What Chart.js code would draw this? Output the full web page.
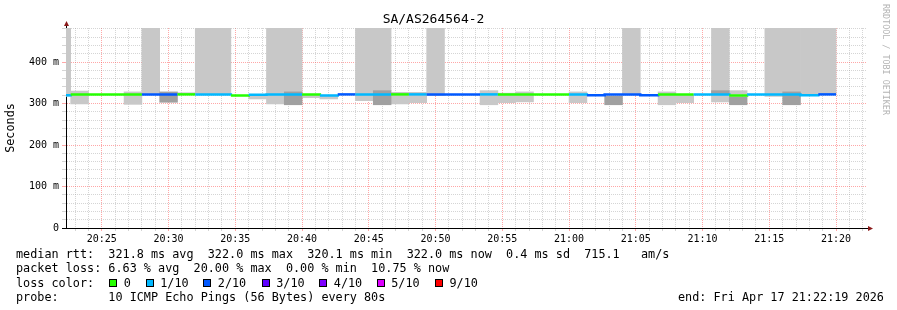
<!DOCTYPE html>
<html>
<head>
<meta charset="utf-8">
<script src="https://cdn.jsdelivr.net/npm/chart.js@4"></script>
<style>
  body { margin: 0; background: #fff; }
  #wrap { position: relative; width: 897px; height: 310px; font-family: 'DejaVu Sans Mono', monospace; color: #000; }
  #chart { position: absolute; left: 0; top: 0; }
  .row { position: absolute; left: 16px; font-size: 11.8px; line-height: 14px; white-space: pre; }
  .box { position: absolute; top: 279px; width: 6px; height: 6px; border: 1px solid #000; }
  #mark { position: absolute; left: 881px; top: 4px; writing-mode: vertical-rl; font-size: 8.4px; color: #b4b4b4; white-space: pre; }
</style>
</head>
<body>
<div id="wrap">
  <canvas id="chart" width="897" height="310"></canvas>
  <div id="mark">RRDTOOL / TOBI OETIKER</div>
  <div class="row" style="top:247.3px">median rtt:  321.8 ms avg  322.0 ms max  320.1 ms min  322.0 ms now  0.4 ms sd  715.1   am/s</div>
  <div class="row" style="top:261.3px">packet loss: 6.63 % avg  20.00 % max  0.00 % min  10.75 % now</div>
  <div class="row" style="top:275.5px">loss color:</div>
  <div id="lossLegend"></div>
  <div class="row" style="top:289.6px">probe:       10 ICMP Echo Pings (56 Bytes) every 80s</div>
  <div class="row" style="top:289.6px; left:678px">end: Fri Apr 17 21:22:19 2026</div>
</div>
<script>
// start of each 80 s step
const stepStarts = [
  '20:21:20', '20:22:40', '20:24:00', '20:25:20', '20:26:40', '20:28:00', '20:29:20', '20:30:40',
  '20:32:00', '20:33:20', '20:34:40', '20:36:00', '20:37:20', '20:38:40', '20:40:00', '20:41:20',
  '20:42:40', '20:44:00', '20:45:20', '20:46:40', '20:48:00', '20:49:20', '20:50:40', '20:52:00',
  '20:53:20', '20:54:40', '20:56:00', '20:57:20', '20:58:40', '21:00:00', '21:01:20', '21:02:40',
  '21:04:00', '21:05:20', '21:06:40', '21:08:00', '21:09:20', '21:10:40', '21:12:00', '21:13:20',
  '21:14:40', '21:16:00', '21:17:20', '21:18:40'
];
const dataEnd = '21:20:00';
const viewStart = '20:22:19';
const viewEnd = '21:22:19';

// median rtt (ms)
const median = [
  320, 322, 322, 322, 322, 322, 322, 322, 322, 322, 319.5, 321, 322, 322, 322, 319.5,
  322, 322, 322, 322, 322, 322, 322, 322, 322, 322, 322, 322, 322, 322, 320, 322,
  322, 320, 322, 322, 322, 322, 319.5, 322, 322, 322, 320, 322
];
// lost pings out of 10
const lossCount = [
  1, 0, 0, 0, 0, 2, 2, 0, 1, 1, 0, 1, 1, 1, 0, 1,
  2, 1, 1, 0, 1, 2, 2, 2, 1, 0, 0, 0, 0, 1, 2, 2,
  2, 2, 0, 0, 1, 1, 0, 1, 1, 1, 1, 2
];
// smoke (ms)
const lightLow = [
  317, 299, null, null, 298, 322, null, 322, 322, 322, null, 311, 299, 328, 314, 311,
  null, 307, 331, 299, 302, 319, null, null, 297, 302, 304, null, null, 302, null, null,
  322, null, 297, 302, null, 304, 322, null, 317, 328, 321, 322
];
const lightHigh = [
  482, 330, null, null, 328, 482, null, 326, 482, 482, null, 320, 482, 482, 320, 320,
  null, 482, 482, 327, 327, 482, null, null, 331, 325, 328, null, null, 328, null, null,
  482, null, 328, 322, null, 482, 331, null, 482, 482, 482, 482
];
const darkLow = [
  null, null, null, null, null, null, 303, null, null, null, null, null, null, 297, null, null,
  null, null, 297, null, null, null, null, null, null, null, null, null, null, null, null, 297,
  null, null, null, null, null, 322, 297, null, null, 297, null, null
];
const darkHigh = [
  null, null, null, null, null, null, 328, null, null, null, null, null, null, 328, null, null,
  null, null, 331, null, null, null, null, null, null, null, null, null, null, null, null, 318,
  null, null, null, null, null, 331, 316, null, null, 328, null, null
];

const xTickLabels = ['20:25', '20:30', '20:35', '20:40', '20:45', '20:50', '20:55', '21:00', '21:05', '21:10', '21:15', '21:20'];
const yTickValues = [0, 100, 200, 300, 400];
const yTickLabels = ['0', '100 m', '200 m', '300 m', '400 m'];
const yMax = 482;

const lossColors = { 0: '#26ff00', 1: '#00b8ff', 2: '#0059ff', 3: '#5e00ff', 4: '#7e00ff', 5: '#dd00ff', 9: '#ff0000' };
const lossNames = { 0: '0', 1: '1/10', 2: '2/10', 3: '3/10', 4: '4/10', 5: '5/10', 9: '9/10' };

const sec = s => { const p = s.split(':').map(Number); return p[0] * 3600 + p[1] * 60 + (p[2] || 0); };
const xMin = sec(viewStart), xMax = sec(viewEnd);
const starts = stepStarts.map(sec);
const stepLen = starts[1] - starts[0];

// plot box is fixed by the layout below
const plotLeft = 66, plotRight = 867;
const barWidth = (plotRight - plotLeft) * stepLen / (xMax - xMin);

function bars(lo, hi) {
  const out = [];
  starts.forEach((t, i) => {
    if (lo[i] !== null) out.push({ x: t + stepLen / 2, y: [lo[i], hi[i]] });
  });
  return out;
}

const medianPoints = starts.map((t, i) => ({ x: t, y: median[i] }));
medianPoints.push({ x: sec(dataEnd), y: median[median.length - 1] });

const majorX = xTickLabels.map(sec);
const gridGray = 'rgba(150,150,150,0.4)';
const gridRed = 'rgba(255,60,60,0.45)';
const mono = 'DejaVu Sans Mono';

const axisArrows = {
  id: 'axisArrows',
  afterDraw(chart) {
    const { ctx, chartArea: a } = chart;
    ctx.save();
    ctx.strokeStyle = '#000';
    ctx.lineWidth = 1;
    ctx.beginPath();
    ctx.moveTo(a.left + 0.5, a.top);
    ctx.lineTo(a.left + 0.5, a.top - 3);
    ctx.moveTo(a.left - 4, a.bottom + 0.5);
    ctx.lineTo(a.left, a.bottom + 0.5);
    ctx.stroke();
    ctx.fillStyle = '#8b1a1a';
    ctx.beginPath();
    ctx.moveTo(a.left + 0.5, a.top - 7);
    ctx.lineTo(a.left - 2, a.top - 2);
    ctx.lineTo(a.left + 3, a.top - 2);
    ctx.fill();
    ctx.beginPath();
    ctx.moveTo(a.right + 6, a.bottom + 0.5);
    ctx.lineTo(a.right + 1, a.bottom - 2);
    ctx.lineTo(a.right + 1, a.bottom + 3);
    ctx.fill();
    ctx.restore();
  }
};

const smoke = { grouped: false, barThickness: barWidth, borderWidth: 0, clip: 0 };

new Chart(document.getElementById('chart'), {
  type: 'bar',
  data: {
    datasets: [
      {
        type: 'line',
        data: medianPoints,
        stepped: true,
        borderWidth: 2.5,
        pointRadius: 0,
        clip: 0,
        segment: { borderColor: c => lossColors[lossCount[c.p0DataIndex]] }
      },
      Object.assign({ data: bars(darkLow, darkHigh), backgroundColor: '#a0a0a0' }, smoke),
      Object.assign({ data: bars(lightLow, lightHigh), backgroundColor: '#c8c8c8' }, smoke)
    ]
  },
  options: {
    responsive: false,
    animation: false,
    layout: { padding: { left: 0, right: 897 - plotRight, top: 0, bottom: 62 } },
    plugins: {
      legend: { display: false },
      tooltip: { enabled: false },
      title: {
        display: true,
        text: 'SA/AS264564-2',
        color: '#000',
        font: { family: mono, size: 13, weight: 'normal', lineHeight: 1.2 },
        padding: { top: 12.2, bottom: 0.2 }
      }
    },
    scales: {
      x: {
        type: 'linear',
        min: xMin,
        max: xMax,
        offset: false,
        afterBuildTicks: axis => {
          const ticks = [];
          for (let v = Math.ceil(xMin / 60) * 60; v <= xMax; v += 60) ticks.push({ value: v });
          axis.ticks = ticks;
        },
        afterFit: s => { s.height = 20; },
        grid: {
          offset: false,
          color: c => majorX.includes(c.tick.value) ? gridRed : gridGray,
          tickColor: c => majorX.includes(c.tick.value) ? gridRed : gridGray,
          tickLength: 3
        },
        border: { color: '#000', width: 1, dash: [1, 1] },
        ticks: {
          autoSkip: false,
          maxRotation: 0,
          padding: 2,
          color: '#000',
          font: { family: mono, size: 10 },
          callback: v => { const i = majorX.indexOf(v); return i >= 0 ? xTickLabels[i] : ''; }
        }
      },
      y: {
        min: 0,
        max: yMax,
        afterBuildTicks: axis => {
          const ticks = [];
          for (let v = 0; v <= yMax; v += 20) ticks.push({ value: v });
          axis.ticks = ticks;
        },
        afterFit: s => { s.width = plotLeft; },
        title: {
          display: true,
          text: 'Seconds',
          color: '#000',
          font: { family: mono, size: 11.8, weight: 'normal' },
          padding: { top: 4, bottom: 0 }
        },
        grid: {
          color: c => yTickValues.includes(c.tick.value) ? gridRed : gridGray,
          tickColor: c => yTickValues.includes(c.tick.value) ? gridRed : gridGray,
          tickLength: 4
        },
        border: { color: '#000', width: 1, dash: [1, 1] },
        ticks: {
          autoSkip: false,
          padding: 3,
          color: '#000',
          font: { family: mono, size: 10 },
          callback: v => { const i = yTickValues.indexOf(v); return i >= 0 ? yTickLabels[i] : ''; }
        }
      }
    }
  },
  plugins: [axisArrows]
});

// loss colour legend boxes
const boxLeft = [109.3, 145.7, 203.3, 261.7, 319.3, 376.7, 435];
const legend = document.getElementById('lossLegend');
Object.keys(lossColors).forEach((k, i) => {
  const b = document.createElement('div');
  b.className = 'box';
  b.style.left = boxLeft[i] + 'px';
  b.style.background = lossColors[k];
  legend.appendChild(b);
  const t = document.createElement('div');
  t.className = 'row';
  t.style.top = '275.5px';
  t.style.left = (boxLeft[i] + 14.5) + 'px';
  t.textContent = lossNames[k];
  legend.appendChild(t);
});
</script>
</body>
</html>
